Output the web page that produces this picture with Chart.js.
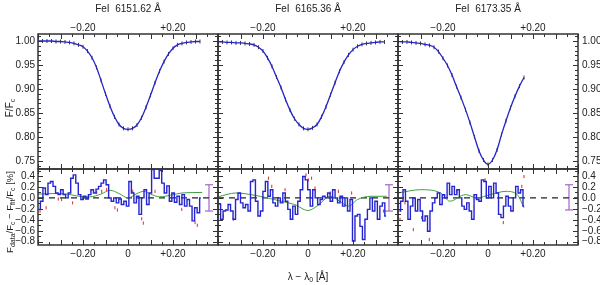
<!DOCTYPE html>
<html lang="en">
<head>
<meta charset="UTF-8">
<title>FeI line profiles and residuals</title>
<style>
    body { margin: 0; background: #fff; }
    #wrap {
        position: relative;
        width: 600px;
        height: 285px;
        overflow: hidden;
        font-family: "Liberation Sans", Arial, sans-serif;
        color: #222;
    }
    #wrap canvas { position: absolute; left: 0; top: 0; }
    .lbl {
        position: absolute;
        font-size: 10px;
        white-space: nowrap;
        transform: translate(-50%, -50%);
    }
    .rot { transform: translate(-50%, -50%) rotate(-90deg); }
    .small { font-size: 9.5px; }
    sub { font-size: 7px; vertical-align: -2px; line-height: 0; }
</style>
</head>
<body>
<div id="wrap">
    <canvas id="t1" width="600" height="285"></canvas>
    <canvas id="t2" width="600" height="285"></canvas>
    <canvas id="t3" width="600" height="285"></canvas>
    <canvas id="b1" width="600" height="285"></canvas>
    <canvas id="b2" width="600" height="285"></canvas>
    <canvas id="b3" width="600" height="285"></canvas>

    <div class="lbl" style="left:128px; top:8px;">FeI&nbsp; 6151.62 Å</div>
    <div class="lbl" style="left:308px; top:8px;">FeI&nbsp; 6165.36 Å</div>
    <div class="lbl" style="left:488px; top:8px;">FeI&nbsp; 6173.35 Å</div>
    <div class="lbl" style="left:308px; top:276px;">λ − λ<sub>0</sub> [Å]</div>
    <div class="lbl rot" style="left:9px; top:108px;">F/F<sub>c</sub></div>
    <div class="lbl rot small" style="left:9px; top:212px;">F<sub>data</sub>/F<sub>c</sub> − F<sub>fit</sub>/F<sub>c</sub> [%]</div>
</div>

<script src="https://cdn.jsdelivr.net/npm/chart.js"></script>
<script>
    // wavelength offsets (Angstrom) of the sampled points
    const wl = (start, step, n) => Array.from({ length: n }, (_, i) => +(start + i * step).toFixed(4));

    // normalised line profiles (F/Fc), sampled every 0.02 A from -0.40
    const prof1 = [1.000, 1.000, 1.000, 1.000, 0.999, 0.999, 0.998, 0.997, 0.995, 0.992,
        0.988, 0.979, 0.965, 0.945, 0.918, 0.890, 0.864, 0.842, 0.826, 0.818,
        0.816, 0.818, 0.825, 0.840, 0.862, 0.887, 0.913, 0.937, 0.957, 0.973,
        0.985, 0.992, 0.995, 0.997, 0.998, 0.999, 0.999];
    const prof2 = [0.998, 0.998, 0.997, 0.997, 0.996, 0.996, 0.995, 0.994, 0.992, 0.987,
        0.979, 0.965, 0.947, 0.925, 0.903, 0.878, 0.856, 0.838, 0.826, 0.818,
        0.816, 0.819, 0.826, 0.842, 0.863, 0.888, 0.913, 0.937, 0.956, 0.971,
        0.982, 0.989, 0.993, 0.995, 0.996, 0.997, 0.998, 0.998];
    const prof3 = [0.999, 0.998, 0.998, 0.997, 0.996, 0.995, 0.993, 0.991, 0.987, 0.978,
        0.964, 0.949, 0.929, 0.905, 0.882, 0.857, 0.830, 0.800, 0.771, 0.752,
        0.743, 0.752, 0.773, 0.805, 0.834, 0.861, 0.885, 0.906, 0.924];

    // residuals in % (blue histogram), first/last sample position
    const res1 = [-0.21, -0.06, 0.18, 0.06, 0.27, 0.30, 0.21, 0.09, 0.06, 0.15,
        0.06, 0.00, 0.09, 0.36, 0.42, 0.27, 0.06, -0.03, 0.03, -0.02,
        0.06, 0.15, 0.09, 0.16, 0.21, 0.27, 0.33, 0.24, 0.00, -0.06,
        0.00, -0.09, -0.02, -0.12, -0.06, -0.15, 0.30, 0.09, -0.09, 0.03,
        -0.30, 0.00, 0.15, -0.12, 0.09, 0.52, 0.36, 0.36, 0.50, 0.27,
        0.09, 0.22, -0.06, 0.09, -0.08, 0.03, -0.12, 0.06, -0.15, -0.03,
        -0.15, -0.42, -0.18, -0.27, 0.00];
    const res2 = [-0.12, -0.39, -0.24, -0.22, -0.12, -0.24, -0.39, -0.03, 0.09, -0.09,
        -0.18, -0.12, -0.24, 0.30, 0.33, -0.06, -0.33, -0.24, 0.12, 0.30,
        0.03, 0.15, -0.09, -0.15, 0.00, -0.09, 0.09, -0.06, -0.21, -0.39,
        -0.15, -0.30, -0.06, 0.15, 0.39, 0.33, 0.15, -0.15, 0.15, 0.00,
        -0.12, -0.03, 0.03, 0.00, 0.09, -0.06, 0.15, 0.00, -0.09, 0.03,
        -0.15, 0.00, -0.24, -0.03, -0.79, -0.33, -0.30, -0.52, -0.76, -0.39,
        -0.21, 0.00, -0.24, -0.06, -0.39, -0.15, -0.09, -0.33];
    const res3 = [-0.24, -0.06, 0.15, -0.06, -0.39, -0.15, 0.00, -0.24, -0.03, -0.24,
        -0.42, -0.33, -0.61, -0.24, -0.09, 0.00, 0.09, -0.12, 0.06, 0.00,
        0.27, 0.06, 0.21, 0.06, 0.15, 0.00, -0.15, -0.21, -0.09, -0.24,
        -0.39, 0.06, -0.03, -0.06, 0.33, 0.30, 0.00, 0.21, 0.00, 0.27,
        0.09, -0.30, -0.36, -0.15, 0.03, -0.15, -0.24, 0.00, 0.21, 0.09,
        0.15, -0.15];
    const resSpan = [[-0.395, 0.324], [-0.394, 0.347], [-0.394, 0.161]];

    // green curves
    const grnX1 = [-0.40, -0.33, -0.27, -0.22, -0.17, -0.12, -0.08, -0.04, 0.00, 0.04, 0.07, 0.10, 0.14, 0.19, 0.24, 0.33];
    const grnY1 = [0.07, 0.08, 0.07, 0.03, 0.02, 0.07, 0.14, 0.08, 0.00, 0.08, 0.12, 0.07, 0.02, 0.05, 0.09, 0.10];
    const grnX2 = [-0.40, -0.32, -0.24, -0.18, -0.12, -0.06, 0.00, 0.04, 0.10, 0.14, 0.18, 0.22, 0.28, 0.35];
    const grnY2 = [0.02, 0.09, 0.05, 0.00, -0.06, -0.12, -0.23, -0.15, 0.03, -0.06, -0.15, -0.03, 0.03, 0.03];
    const grnX3 = [-0.40, -0.30, -0.21, -0.17, -0.10, -0.05, 0.01, 0.08, 0.13, 0.16];
    const grnY3 = [0.09, 0.15, 0.09, -0.06, 0.06, 0.00, 0.06, 0.12, 0.06, -0.18];

    // red residual points
    const redX1 = [-0.391, -0.364, -0.31, -0.295, -0.246, -0.139, -0.117, -0.095, -0.058, -0.047, 0.021, 0.061, 0.068, 0.12, 0.239, 0.298, 0.308];
    const redY1 = [-0.24, -0.18, -0.02, -0.03, -0.09, 0.10, 0.12, 0.15, -0.18, -0.22, 0.12, -0.38, -0.46, 0.12, -0.21, -0.45, -0.50];
    const redX2 = [-0.376, -0.332, -0.176, -0.161, -0.102, -0.009, 0.001, 0.016, 0.031, 0.098, 0.135, 0.194, 0.335];
    const redY2 = [-0.33, -0.39, 0.36, 0.21, 0.15, 0.42, 0.33, 0.36, 0.18, 0.09, 0.12, 0.09, -0.24];
    const redX3 = [-0.391, -0.369, -0.332, -0.295, -0.261, -0.139, -0.013, 0.068, 0.150, 0.160];
    const redY3 = [-0.39, -0.09, -0.58, -0.36, -0.76, 0.12, 0.33, -0.45, 0.21, 0.39];

    // typical error bar
    const errX = 0.36;
    const errTop = [0.24, 0.24, 0.24];
    const errBot = [-0.24, -0.24, -0.22];

    // tick labels
    const xTopTicks = [[-0.2, '−0.20'], [0.2, '+0.20']];
    const xBotTicks = [[-0.2, '−0.20'], [0, '0'], [0.2, '+0.20']];
    const profTicks = [[1.0, '1.00'], [0.95, '0.95'], [0.9, '0.90'], [0.85, '0.85'], [0.8, '0.80'], [0.75, '0.75']];
    const resTicks = [[0.4, '0.4'], [0.2, '0.2'], [0, '0.0'], [-0.2, '−0.2'], [-0.4, '−0.4'], [-0.6, '−0.6'], [-0.8, '−0.8']];

    const W = 600, H = 285;
    const cols = [[38, 218], [218, 398], [398, 578]];
    const topRow = [34, 169], botRow = [169, 245];

    const frame = {
        id: 'frame',
        afterDraw(chart, args, o) {
            const { ctx, chartArea: a } = chart;
            const x = chart.scales.x, y = chart.scales.y;
            ctx.save();
            ctx.strokeStyle = '#333';
            ctx.lineWidth = 1;
            ctx.beginPath();
            for (let i = -8; i <= 8; i++) {
                const px = Math.round(x.getPixelForValue(i * 0.05)) + 0.5;
                const len = i % 2 === 0 ? 5 : 3;
                ctx.moveTo(px, a.bottom); ctx.lineTo(px, a.bottom - len);
                ctx.moveTo(px, a.top); ctx.lineTo(px, a.top + len);
            }
            for (let i = o.yFrom; i <= o.yTo; i++) {
                const py = Math.round(y.getPixelForValue(i * o.yStep)) + 0.5;
                const len = i % o.yMajor === 0 ? 5 : 3;
                ctx.moveTo(a.left, py); ctx.lineTo(a.left + len, py);
                ctx.moveTo(a.right, py); ctx.lineTo(a.right - len, py);
            }
            ctx.stroke();
            ctx.lineWidth = 1.5;
            ctx.strokeRect(a.left, a.top, a.right - a.left, a.bottom - a.top);

            ctx.fillStyle = '#222';
            ctx.font = '10px "Liberation Sans", Arial, sans-serif';
            ctx.textBaseline = 'middle';
            ctx.textAlign = 'center';
            (o.xTop || []).forEach(([v, t]) => ctx.fillText(t, x.getPixelForValue(v), a.top - 6));
            (o.xBot || []).forEach(([v, t]) => ctx.fillText(t, x.getPixelForValue(v), a.bottom + 9));
            ctx.textAlign = 'right';
            (o.yLeft || []).forEach(([v, t]) => ctx.fillText(t, a.left - 3, y.getPixelForValue(v)));
            ctx.textAlign = 'left';
            (o.yRight || []).forEach(([v, t]) => ctx.fillText(t, a.right + 4, y.getPixelForValue(v)));
            ctx.restore();
        }
    };

    function panel(id, col, row, yMin, yMax, datasets, frameOpts) {
        return new Chart(document.getElementById(id), {
            type: 'line',
            data: { datasets },
            options: {
                responsive: false,
                animation: false,
                layout: { padding: { left: col[0], right: W - col[1], top: row[0], bottom: H - row[1] } },
                scales: {
                    x: { type: 'linear', min: -0.4, max: 0.4, display: false },
                    y: { type: 'linear', min: yMin, max: yMax, display: false }
                },
                elements: { point: { radius: 0 } },
                plugins: { legend: { display: false }, tooltip: { enabled: false }, frame: frameOpts }
            },
            plugins: [frame]
        });
    }

    const xy = (xs, ys) => ys.map((v, i) => ({ x: xs[i], y: v }));

    function topSets(prof) {
        const pts = xy(wl(-0.40, 0.02, prof.length), prof);
        return [
            { data: pts, borderColor: '#2424c8', borderWidth: 1.3, cubicInterpolationMode: 'monotone' },
            { data: pts, showLine: false, pointStyle: 'line', rotation: 90, pointRadius: 2,
              borderColor: '#111', borderWidth: 0.8 }
        ];
    }

    function botSets(res, span, gx, gy, rx, ry, k) {
        const step = (span[1] - span[0]) / (res.length - 1);
        return [
            { data: xy(wl(span[0], step, res.length), res), stepped: 'middle', borderColor: '#2424d0', borderWidth: 1.4 },
            { data: xy(gx, gy), borderColor: '#3ea03e', borderWidth: 1, cubicInterpolationMode: 'monotone' },
            { data: xy(rx, ry), showLine: false, pointStyle: 'line', rotation: 90, pointRadius: 1.6,
              borderColor: '#e02828', borderWidth: 1 },
            { data: [{ x: -0.4, y: 0 }, { x: 0.4, y: 0 }], borderColor: '#222', borderWidth: 1.2, borderDash: [6, 5] },
            { data: [{ x: errX, y: errTop[k] }, { x: errX, y: errBot[k] }], borderColor: '#a864c8', borderWidth: 1.2,
              pointStyle: 'line', pointRadius: 4, pointBorderColor: '#a864c8', pointBorderWidth: 1.2 }
        ];
    }

    const profRange = [0.7333, 1.0146], resRange = [-0.86, 0.528];
    const profTickOpts = { yFrom: 74, yTo: 101, yStep: 0.01, yMajor: 5 };
    const resTickOpts = { yFrom: -8, yTo: 5, yStep: 0.1, yMajor: 2 };

    panel('t1', cols[0], topRow, profRange[0], profRange[1], topSets(prof1),
        { ...profTickOpts, xTop: xTopTicks, yLeft: profTicks });
    panel('t2', cols[1], topRow, profRange[0], profRange[1], topSets(prof2),
        { ...profTickOpts, xTop: xTopTicks });
    panel('t3', cols[2], topRow, profRange[0], profRange[1], topSets(prof3),
        { ...profTickOpts, xTop: xTopTicks, yRight: profTicks });

    panel('b1', cols[0], botRow, resRange[0], resRange[1], botSets(res1, resSpan[0], grnX1, grnY1, redX1, redY1, 0),
        { ...resTickOpts, xBot: xBotTicks, yLeft: resTicks });
    panel('b2', cols[1], botRow, resRange[0], resRange[1], botSets(res2, resSpan[1], grnX2, grnY2, redX2, redY2, 1),
        { ...resTickOpts, xBot: xBotTicks });
    panel('b3', cols[2], botRow, resRange[0], resRange[1], botSets(res3, resSpan[2], grnX3, grnY3, redX3, redY3, 2),
        { ...resTickOpts, xBot: xBotTicks, yRight: resTicks });
</script>
</body>
</html>
